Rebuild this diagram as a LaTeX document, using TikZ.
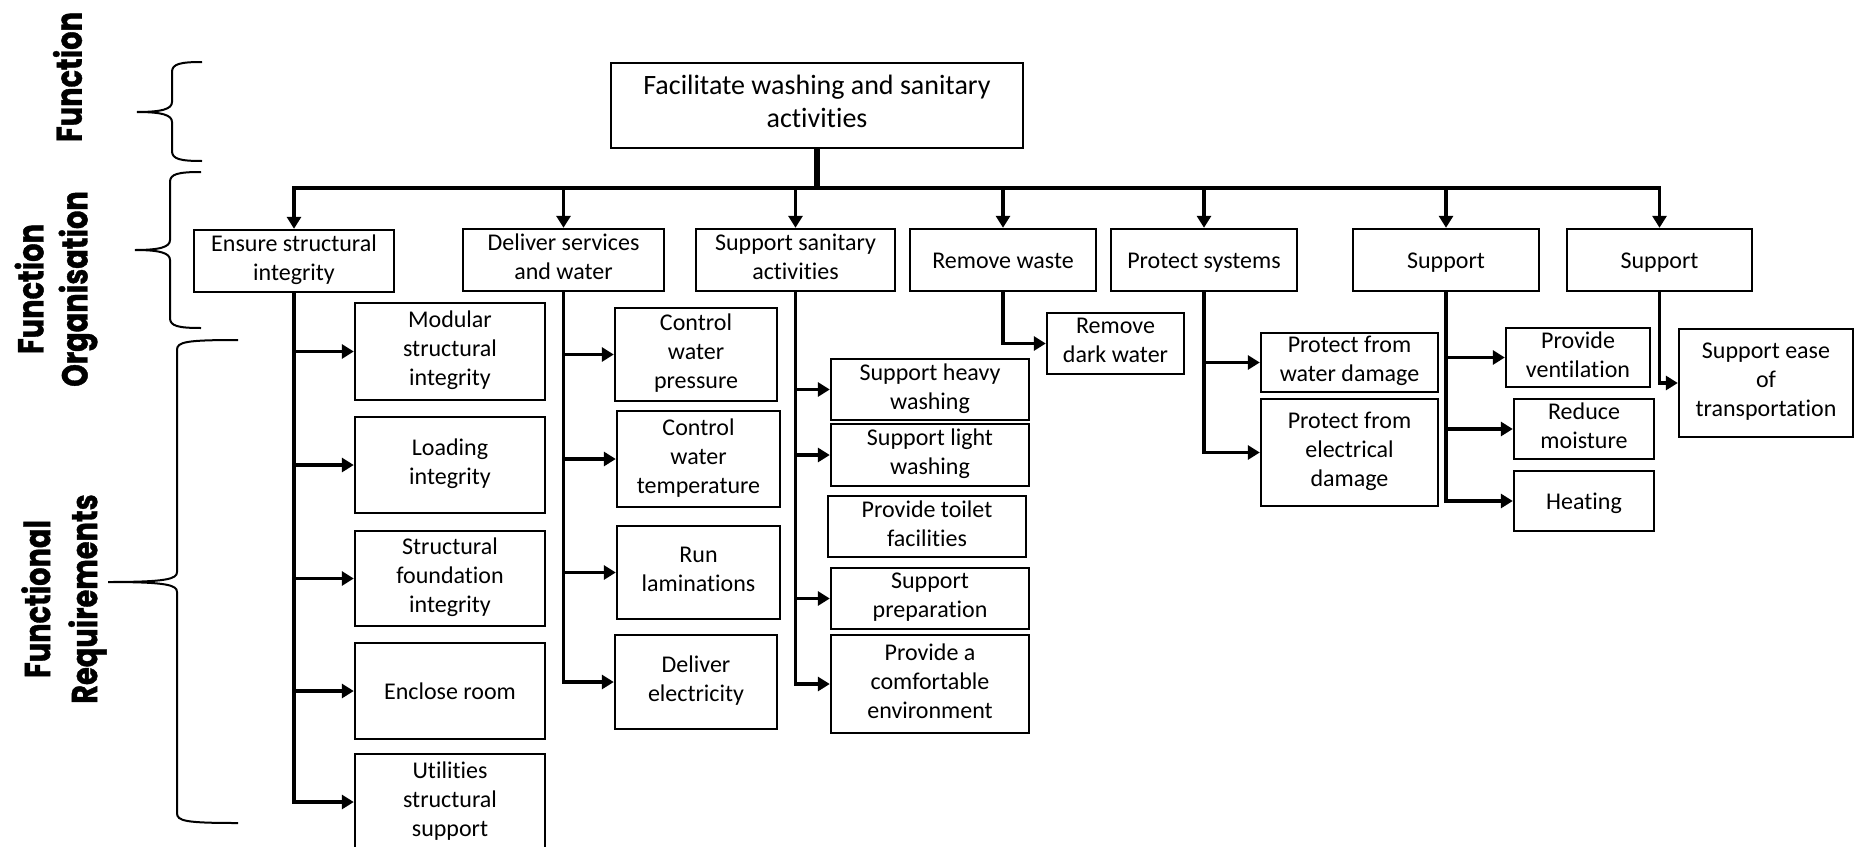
\documentclass[tikz,border=0pt]{standalone}
\usepackage{fontspec}
\usepackage{graphicx}
\setmainfont{Carlito}[Ligatures=NoCommon]
\newfontfamily\lblfamily{Poppins}[BoldFeatures={FakeBold=1.2}]
\usetikzlibrary{arrows.meta}

\newcommand\boxfont{\fontsize{12pt}{14.5pt}\selectfont}
\newcommand\topfont{\fontsize{14pt}{16.5pt}\selectfont}
\newcommand\lblfont{\lblfamily\bfseries\fontsize{18pt}{22pt}\selectfont}
\newcommand\squeeze[1]{\scalebox{0.8}[1]{#1}}
% fixed line-box struts, so that text sits the same whatever its glyphs
\newcommand\topstrut{\rule{0pt}{0.95em}}
\newcommand\botstrut{\rule[-0.275em]{0pt}{0pt}}
% a box given by its two corners (pixel grid, y downwards)
\newcommand\bx[7][]{\node[box, #1, minimum width={(#5-#3)*0.5pt}, minimum height={(#6-#4)*0.5pt}]
  (#2) at ({(#3+#5)/2},{(#4+#6)/2}) {#7};}
% a curly brace: x of spine, x of ends, top, bottom, tip x, tip y
\newcommand\curly[6]{%
  \draw[brace] (#2,#3) .. controls ({#1+8},#3) and (#1,{#3+2}) .. (#1,{#3+10})
    -- (#1,{#6-10}) .. controls (#1,{#6-3}) and ({#1-10},#6) .. (#5,#6)
    .. controls ({#1-10},#6) and (#1,{#6+3}) .. (#1,{#6+10})
    -- (#1,{#4-10}) .. controls (#1,{#4-2}) and ({#1+8},#4) .. (#2,#4);}

\tikzset{
  box/.style={draw, line width=1.2pt, inner sep=0pt, align=center, font=\boxfont,
    execute at begin node={\topstrut}, execute at end node={\botstrut}},
  conn/.style={line width=1.8pt},
  trunk/.style={line width=2.6pt},
  arr/.style={conn, -{Triangle[length=6pt,width=7pt]}},
  brace/.style={line width=1pt},
  lbl/.style={rotate=90, align=center, inner sep=0pt, font=\lblfont},
}

\begin{document}
\begin{tikzpicture}[x=0.5pt, y=-0.5pt]
\useasboundingbox (0,0) rectangle (1856,846);
\clip (0,0) rectangle (1856,846);

% side labels and braces
\node[lbl] (lfun) at (67.5,77) {\squeeze{Function}};
\node[lbl] (lorg) at (56,289) {\squeeze{Function}\\\squeeze{Organisation}};
\node[lbl] (lreq) at (64,599) {\squeeze{Functional}\\[1.5pt]\squeeze{Requirements}};
\curly{172}{202}{62}{161}{137}{112}
\curly{170}{201}{172}{328}{135}{250}
\curly{177}{238}{340}{823}{108}{582}

% top function
\bx[font=\topfont]{top}{611}{63}{1023}{148}{Facilitate washing and sanitary\\activities}

% function organisation
\bx{ensure}{194}{230}{394}{292}{Ensure structural\\integrity}
\bx{deliver}{463}{229}{664}{291}{Deliver services\\and water}
\bx{sanit}{696}{229}{895}{291}{Support sanitary\\activities}
\bx{waste}{910}{229}{1096}{291}{Remove waste}
\bx{protect}{1111}{229}{1297}{291}{Protect systems}
\bx{supa}{1353}{229}{1539}{291}{Support}
\bx{supb}{1567}{229}{1752}{291}{Support}

% functional requirements
\bx{modular}{355}{303}{545}{400}{Modular\\structural\\integrity}
\bx{loading}{355}{417}{545}{513}{Loading\\integrity}
\bx{foundation}{355}{531}{545}{626}{Structural\\foundation\\integrity}
\bx{enclose}{355}{643}{545}{739}{Enclose room}
\bx{utilities}{355}{754}{545}{850}{Utilities\\structural\\support}

\bx{pressure}{615}{308}{777}{401}{Control\\water\\pressure}
\bx{temperature}{617}{411}{780}{507}{Control\\water\\temperature}
\bx{lamination}{617}{526}{780}{619}{Run\\laminations}
\bx{electricity}{615}{635}{777}{729}{Deliver\\electricity}

\bx{heavy}{831}{359}{1029}{420}{Support heavy\\washing}
\bx{light}{831}{424}{1029}{486}{Support light\\washing}
\bx{toilet}{828}{496}{1026}{557}{Provide toilet\\facilities}
\bx{prep}{831}{568}{1029}{629}{Support\\preparation}
\bx{comfort}{831}{635}{1029}{733}{Provide a\\comfortable\\environment}

\bx{dark}{1047}{313}{1184}{374}{Remove\\dark water}

\bx{water}{1261}{333}{1438}{392}{Protect from\\water damage}
\bx{elec}{1261}{399}{1438}{506}{Protect from\\electrical\\damage}

\bx{vent}{1506}{328}{1650}{387}{Provide\\ventilation}
\bx{moist}{1514}{399}{1654}{459}{Reduce\\moisture}
\bx{heat}{1514}{471}{1654}{531}{Heating}

\bx{ease}{1679}{329}{1853}{437}{Support ease\\of\\transportation}

% top function to the bus
\coordinate (bus) at (0,188);
\draw[trunk] (top.south) -- (top.south |- bus);
\draw[conn, line cap=rect] (ensure.north |- bus) -- (supb.north |- bus);
\foreach \n in {ensure,deliver,sanit,waste,protect,supa,supb}
  \draw[arr] (\n.north |- bus) -- (\n.north);

% branches down to the requirements
\draw[arr] (ensure.south) |- (utilities.west);
\foreach \n in {modular,loading,foundation,enclose}
  \draw[arr] (ensure.south |- \n.west) -- (\n.west);

\draw[arr] (deliver.south) |- (electricity.west);
\foreach \n in {pressure,temperature,lamination}
  \draw[arr] (deliver.south |- \n.west) -- (\n.west);

\draw[arr] (sanit.south) |- (comfort.west);
\foreach \n in {heavy,light,prep}
  \draw[arr] (sanit.south |- \n.west) -- (\n.west);

\draw[arr] (waste.south) |- (dark.west);

\draw[arr] (protect.south) |- (elec.west);
\draw[arr] (protect.south |- water.west) -- (water.west);

\draw[arr] (supa.south) |- (heat.west);
\foreach \n in {vent,moist}
  \draw[arr] (supa.south |- \n.west) -- (\n.west);

\draw[arr] (supb.south) |- (ease.west);
\end{tikzpicture}
\end{document}
